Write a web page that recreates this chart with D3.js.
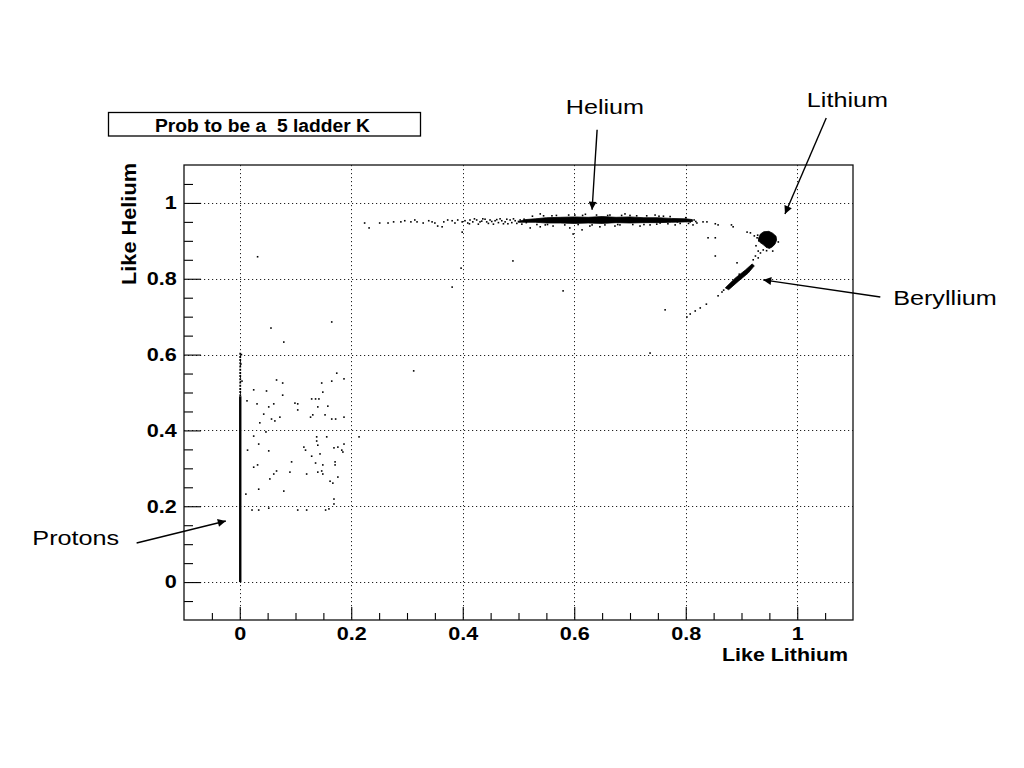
<!DOCTYPE html>
<html><head><meta charset="utf-8">
<script src="https://cdn.jsdelivr.net/npm/d3@7"></script>
<style>
body{margin:0;background:#fff;}
svg{display:block;}
text{font-family:"Liberation Sans",Arial,Helvetica,sans-serif;fill:#000;white-space:pre;}
</style>
</head><body>
<svg id="c" width="1024" height="768"></svg>
<script>
// ---------- data ----------
const titleText = "Prob to be a  5 ladder K";
const xAxisTitle = "Like Lithium";
const yAxisTitle = "Like Helium";
const xDomain = [-0.1, 1.1];
const yDomain = [-0.1, 1.1];
const xMajorTicks = [0, 0.2, 0.4, 0.6, 0.8, 1];
const yMajorTicks = [0, 0.2, 0.4, 0.6, 0.8, 1];
const xTickLabels = ["0", "0.2", "0.4", "0.6", "0.8", "1"];
const yTickLabels = ["0", "0.2", "0.4", "0.6", "0.8", "1"];
const minorTicks = [-0.05, 0.05, 0.1, 0.15, 0.25, 0.3, 0.35, 0.45, 0.5, 0.55, 0.65, 0.7, 0.75, 0.85, 0.9, 0.95, 1.05];

// dense cores (outlines in data space)
const heliumCore = [[0.500,0.951],[0.512,0.956],[0.530,0.958],[0.550,0.961],[0.575,0.962],[0.600,0.963],[0.625,0.962],[0.650,0.964],[0.675,0.962],[0.700,0.963],[0.725,0.961],[0.750,0.961],[0.775,0.959],[0.800,0.958],[0.812,0.956],
  [0.812,0.951],[0.800,0.950],[0.775,0.949],[0.750,0.948],[0.725,0.948],[0.700,0.947],[0.675,0.948],[0.650,0.946],[0.625,0.947],[0.600,0.946],[0.575,0.947],[0.550,0.947],[0.530,0.949],[0.512,0.949],[0.500,0.949]];
const lithiumCore = [[0.930,0.905],[0.934,0.918],[0.940,0.924],[0.949,0.925],[0.956,0.920],[0.962,0.912],[0.963,0.902],[0.960,0.891],[0.955,0.884],[0.950,0.880],[0.944,0.883],[0.940,0.889],[0.933,0.896]];
const berylliumCore = [[0.871,0.776],[0.889,0.802],[0.907,0.823],[0.919,0.839],[0.923,0.834],[0.912,0.815],[0.894,0.793],[0.877,0.771]];
// proton column at x = 0
const protonDense = [0, 0.49];
const protonSparse = [0.49, 0.607];

// scattered events
const heliumScatter = [
 [0.224,0.947],[0.232,0.934],[0.251,0.947],[0.266,0.947],[0.276,0.950],[0.289,0.950],[0.296,0.953],[0.307,0.950],[0.314,0.955],[0.318,0.950],
 [0.329,0.947],[0.339,0.953],[0.345,0.950],[0.350,0.947],[0.355,0.939],[0.363,0.937],[0.366,0.950],[0.373,0.955],[0.381,0.953],[0.386,0.947],
 [0.391,0.955],[0.399,0.950],[0.399,0.923],[0.404,0.953],[0.409,0.947],[0.413,0.955],[0.418,0.950],[0.425,0.955],[0.431,0.950],[0.436,0.958],
 [0.443,0.950],[0.449,0.955],[0.458,0.953],[0.467,0.958],[0.476,0.950],[0.481,0.945],[0.485,0.955],[0.494,0.953],[0.503,0.955],
 [0.412,0.945],[0.421,0.958],[0.428,0.944],[0.434,0.952],[0.440,0.957],[0.446,0.946],[0.452,0.951],[0.455,0.944],[0.461,0.956],[0.464,0.948],
 [0.470,0.953],[0.473,0.945],[0.479,0.957],[0.488,0.948],[0.491,0.958],[0.497,0.946],[0.500,0.951],[0.506,0.944],[0.510,0.957],[0.514,0.948],
 [0.521,0.934],[0.539,0.937],[0.562,0.939],[0.592,0.934],[0.598,0.918],[0.614,0.929],[0.646,0.937],[0.682,0.942],[0.718,0.939],[0.754,0.947],
 [0.785,0.950],[0.795,0.953],[0.808,0.950],[0.813,0.942],
 [0.539,0.971],[0.601,0.968],[0.664,0.968],[0.691,0.971],[0.745,0.968],[0.548,0.942],[0.628,0.939],[0.673,0.939],[0.736,0.942],[0.781,0.942],
 [0.560,0.966],[0.620,0.970],[0.700,0.967],[0.760,0.965],
 [0.525,0.965],[0.533,0.943],[0.545,0.966],[0.552,0.943],[0.568,0.967],[0.583,0.942],[0.590,0.968],[0.607,0.943],[0.615,0.967],[0.632,0.942],
 [0.640,0.968],[0.655,0.942],[0.660,0.967],[0.678,0.943],[0.685,0.967],[0.705,0.943],[0.712,0.966],[0.725,0.943],[0.730,0.966],[0.748,0.944],
 [0.752,0.965],[0.768,0.945],[0.772,0.964],[0.790,0.946],[0.800,0.961],[0.805,0.946],[0.815,0.955],[0.818,0.951],
 [0.820,0.947],[0.831,0.950],[0.838,0.950],[0.853,0.945],[0.858,0.942],[0.882,0.942],[0.885,0.937],[0.840,0.908],[0.853,0.908],[0.853,0.860],[0.892,0.842]
];
const lithiumBerylliumScatter = [
 [0.910,0.923],[0.916,0.921],[0.923,0.913],[0.928,0.908],[0.926,0.887],[0.930,0.873],[0.925,0.860],[0.921,0.850],[0.934,0.868],[0.939,0.876],
 [0.930,0.855],[0.929,0.915],[0.931,0.900],[0.966,0.897],[0.945,0.874],[0.956,0.873],
 [0.865,0.765],[0.858,0.755],[0.837,0.733],[0.826,0.723],[0.817,0.715],[0.808,0.707],[0.802,0.699],[0.868,0.770],[0.896,0.812],[0.884,0.786]
];
const middleScatter = [
 [0.490,0.847],[0.397,0.828],[0.381,0.778],[0.580,0.768],[0.763,0.718],[0.736,0.604],[0.312,0.557],[0.032,0.858],[0.056,0.670],[0.165,0.686],
 [0.079,0.633],[0.003,0.600],[0.002,0.575],[0.004,0.530]
];
const lowScatter = [
 [0.174,0.551],[0.066,0.533],[0.077,0.525],[0.147,0.525],[0.165,0.530],[0.187,0.536],[0.025,0.507],[0.048,0.504],[0.077,0.493],[0.149,0.501],
 [0.129,0.483],[0.136,0.483],[0.142,0.483],[0.099,0.472],[0.104,0.470],[0.031,0.470],[0.061,0.470],[0.052,0.462],[0.140,0.462],[0.158,0.464],
 [0.013,0.478],[0.104,0.454],[0.043,0.443],[0.131,0.441],[0.127,0.435],[0.153,0.441],[0.072,0.435],[0.057,0.430],[0.063,0.425],[0.165,0.430],
 [0.172,0.430],[0.187,0.435],[0.036,0.420],[0.047,0.396],[0.025,0.385],[0.156,0.383],[0.138,0.383],[0.214,0.383],[0.138,0.372],[0.034,0.364],
 [0.115,0.356],[0.140,0.361],[0.169,0.354],[0.176,0.356],[0.187,0.364],[0.014,0.348],[0.052,0.346],[0.118,0.348],[0.183,0.348],[0.185,0.343],
 [0.144,0.338],[0.129,0.332],[0.093,0.317],[0.136,0.314],[0.171,0.317],[0.171,0.309],[0.032,0.309],[0.025,0.303],[0.149,0.309],[0.066,0.293],
 [0.090,0.290],[0.061,0.285],[0.120,0.285],[0.140,0.290],[0.147,0.293],[0.149,0.285],[0.054,0.272],[0.176,0.277],[0.162,0.266],[0.167,0.261],
 [0.034,0.245],[0.079,0.240],[0.011,0.232],[0.169,0.219],[0.169,0.206],[0.022,0.190],[0.034,0.190],[0.052,0.195],[0.104,0.190],[0.120,0.190],
 [0.154,0.190],[0.160,0.193]
];

// annotations (data space)
const annotationLabels = ["Helium", "Lithium", "Beryllium", "Protons"];
const annotationTextPos = [[0.655,1.234],[1.090,1.252],[1.172,0.730],[-0.372,0.098]];
const annotationArrowFrom = [[0.641,1.193],[1.052,1.224],[1.149,0.752],[-0.185,0.103]];
const annotationArrowTo = [[0.632,0.982],[0.978,0.971],[0.939,0.797],[-0.025,0.161]];

// ---------- drawing ----------
const svg = d3.select("#c");
const L = 184, R = 853, T = 165, B = 620;
const x = d3.scaleLinear().domain(xDomain).range([L, R]);
const y = d3.scaleLinear().domain(yDomain).range([B, T]);
const SX = 1.2; // horizontal text stretch of the original rendering

// title box
svg.append("rect").attr("x",108.5).attr("y",112.5).attr("width",312).attr("height",23.5)
  .attr("fill","#fff").attr("stroke","#000").attr("stroke-width",1.3);
svg.append("text").attr("x",155).attr("y",132).attr("font-size",17.5).attr("font-weight","bold")
  .attr("xml:space","preserve")
  .attr("textLength",215).attr("lengthAdjust","spacingAndGlyphs").text(titleText);

// grid
const grid = svg.append("g").attr("stroke","#222").attr("stroke-width",1).attr("stroke-dasharray","1.2,2.8");
grid.selectAll(".gx").data(xMajorTicks).join("line")
  .attr("x1",d=>Math.round(x(d))+0.5).attr("x2",d=>Math.round(x(d))+0.5).attr("y1",T).attr("y2",B);
grid.selectAll(".gy").data(yMajorTicks).join("line")
  .attr("y1",d=>Math.round(y(d))+0.5).attr("y2",d=>Math.round(y(d))+0.5).attr("x1",L).attr("x2",R);

// axes
function styleAxis(g){ g.select(".domain").remove(); g.selectAll("line").attr("stroke","#000").attr("stroke-width",1.1); }
svg.append("g").attr("transform",`translate(0,${B})`)
  .call(d3.axisBottom(x).tickValues(minorTicks).tickSize(-7).tickFormat("")).call(styleAxis);
const xa = svg.append("g").attr("transform",`translate(0,${B})`)
  .call(d3.axisBottom(x).tickValues(xMajorTicks).tickSize(-13).tickPadding(7).tickFormat((d,i)=>xTickLabels[i])).call(styleAxis);
xa.selectAll("text").attr("font-size",18).attr("font-weight","bold").attr("font-family","Liberation Sans, Arial, sans-serif")
  .attr("fill","#000").attr("transform",`scale(${SX},1)`);
svg.append("g").attr("transform",`translate(${L},0)`)
  .call(d3.axisLeft(y).tickValues(minorTicks).tickSize(-9).tickFormat("")).call(styleAxis);
const ya = svg.append("g").attr("transform",`translate(${L},0)`)
  .call(d3.axisLeft(y).tickValues(yMajorTicks).tickSize(-17).tickPadding(6).tickFormat((d,i)=>yTickLabels[i])).call(styleAxis);
ya.selectAll("text").attr("font-size",18).attr("font-weight","bold").attr("font-family","Liberation Sans, Arial, sans-serif")
  .attr("fill","#000").attr("transform",`scale(${SX},1)`);

// frame
svg.append("rect").attr("x",L).attr("y",T).attr("width",R-L).attr("height",B-T)
  .attr("fill","none").attr("stroke","#111").attr("stroke-width",1.3);

// axis titles
svg.append("text").attr("transform",`translate(848,661)`).attr("text-anchor","end")
  .attr("font-size",18).attr("font-weight","bold").attr("textLength",126).attr("lengthAdjust","spacingAndGlyphs").text(xAxisTitle);
svg.append("text").attr("transform",`translate(136,${T-2}) rotate(-90)`).attr("text-anchor","end")
  .attr("font-size",20).attr("font-weight","bold").attr("textLength",122).attr("lengthAdjust","spacingAndGlyphs").text(yAxisTitle);

// data: cores
const area = svg.append("g");
const poly = d3.line().x(d=>x(d[0])).y(d=>y(d[1])).curve(d3.curveLinearClosed);
[heliumCore, lithiumCore, berylliumCore].forEach(c=>{
  area.append("path").attr("d",poly(c)).attr("fill","#000").attr("stroke","#000").attr("stroke-width",0.8);
});
// proton column
area.append("line").attr("x1",x(0)+0.5).attr("x2",x(0)+0.5).attr("y1",y(protonDense[0])).attr("y2",y(protonDense[1]))
  .attr("stroke","#000").attr("stroke-width",2.4);
area.append("line").attr("x1",x(0)+0.5).attr("x2",x(0)+0.5).attr("y1",y(protonSparse[0])).attr("y2",y(protonSparse[1]))
  .attr("stroke","#000").attr("stroke-width",1.8).attr("stroke-dasharray","2,1.2");

// scatter points
const allPts = [].concat(heliumScatter, lithiumBerylliumScatter, middleScatter, lowScatter);
area.selectAll("rect.pt").data(allPts).join("rect").attr("class","pt")
  .attr("x",d=>x(d[0])-0.8).attr("y",d=>y(d[1])-0.8).attr("width",1.6).attr("height",1.6).attr("fill","#000");

// annotations
svg.append("defs").append("marker").attr("id","ah").attr("viewBox","0 0 10 10").attr("refX",10).attr("refY",5)
  .attr("markerWidth",11).attr("markerHeight",8).attr("markerUnits","userSpaceOnUse").attr("orient","auto")
  .append("path").attr("d","M0,0 L10,5 L0,10 Z").attr("fill","#000");
annotationLabels.forEach((lab,i)=>{
  const f = annotationArrowFrom[i], t = annotationArrowTo[i], p = annotationTextPos[i];
  svg.append("line").attr("x1",x(f[0])).attr("y1",y(f[1])).attr("x2",x(t[0])).attr("y2",y(t[1]))
    .attr("stroke","#000").attr("stroke-width",1.4).attr("marker-end","url(#ah)");
  const anchor = (i<2) ? "middle" : "start";
  svg.append("text").attr("transform",`translate(${x(p[0])},${y(p[1])}) scale(${SX},1)`)
    .attr("text-anchor",anchor).attr("font-size",21).text(lab);
});
</script>
</body></html>
